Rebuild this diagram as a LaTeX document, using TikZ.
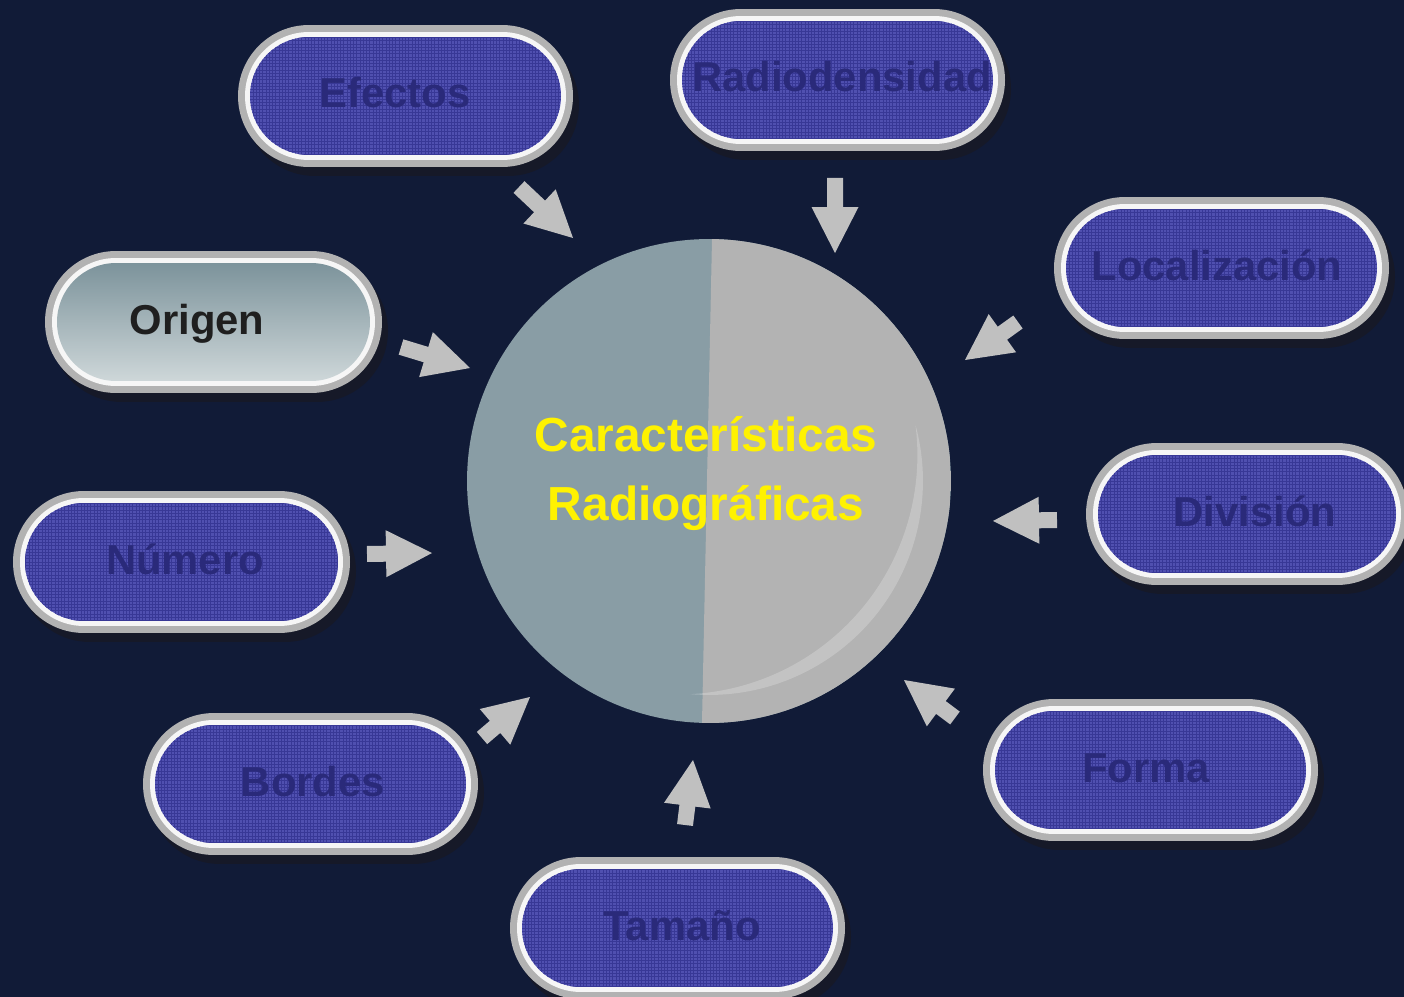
\documentclass[tikz,border=0pt]{standalone}
\usepackage{fontspec}
\setmainfont{Liberation Sans}
\usetikzlibrary{shapes.misc,calc}

\definecolor{bg}{RGB}{17,27,55}
\definecolor{shadowc}{RGB}{22,25,40}
\definecolor{rimgray}{RGB}{178,178,178}
\definecolor{ringwhite}{RGB}{246,246,246}
\definecolor{pillblue}{RGB}{80,80,176}
\definecolor{meshblue}{RGB}{56,56,150}
\definecolor{labelnavy}{RGB}{42,42,122}
\definecolor{slate}{RGB}{137,157,165}
\definecolor{diskgray}{RGB}{179,179,179}
\definecolor{arrowgray}{RGB}{192,192,192}
\definecolor{origtop}{RGB}{124,147,155}
\definecolor{origbot}{RGB}{206,215,217}

\tikzset{
  pilllayer/.style={rounded rectangle, inner sep=0pt, draw=none},
  bluefill/.style={fill=pillblue},
  greyfill/.style={top color=origtop, bottom color=origbot},
  bluelabel/.style={text=labelnavy, font=\fontsize{23.8}{28}\selectfont\bfseries},
  greylabel/.style={text=black!88, font=\fontsize{23.8}{28}\selectfont\bfseries},
  hubtext/.style={text=yellow, font=\fontsize{27.2}{33}\selectfont\bfseries, inner sep=0pt},
  blockfill/.style={fill=arrowgray},
  sheen/.style={fill=white, fill opacity=0.22}
}

% fine woven texture of the blue pills
\newcommand\pillmeshblue{%
  \draw[meshblue, line width=0.3pt, step=0.065cm]
    (path picture bounding box.south west) grid (path picture bounding box.north east);}
\newcommand\pillmeshgrey{}

% #1 name, #2 cx, #3 cy, #4 outer width (px), #5 label x offset, #6 label, #7 look
\newcommand\pillnode[7]{%
  \node[pilllayer, fill=shadowc, minimum width={#4*0.02cm}, minimum height=2.84cm]
    at (#2+6,#3+9) {};
  \node[pilllayer, fill=rimgray, minimum width={#4*0.02cm}, minimum height=2.84cm]
    (#1) at (#2,#3) {};
  \node[pilllayer, fill=ringwhite, minimum width={(#4-14)*0.02cm}, minimum height=2.56cm]
    at (#1) {};
  \node[pilllayer, #7fill, minimum width={(#4-24)*0.02cm}, minimum height=2.36cm,
    path picture={\csname pillmesh#7\endcsname
      \node[#7label, anchor=base, inner sep=0pt]
        at ([shift={(#5,12)}]path picture bounding box.center) {#6};}]
    (#1-in) at (#1) {};
}

% block arrow from tail coordinate #1 to tip coordinate #2
\newcommand\blockarrow[2]{%
  \path ($(#2)!0.92cm!(#1)$) coordinate (hb);
  \fill[blockfill]
    ($(#1)!0.16cm!90:(#2)$) -- ($(hb)!0.16cm!90:(#2)$) -- ($(hb)!0.47cm!90:(#2)$)
    -- (#2)
    -- ($(hb)!0.47cm!-90:(#2)$) -- ($(hb)!0.16cm!-90:(#2)$) -- ($(#1)!0.16cm!-90:(#2)$)
    -- cycle;
}

\begin{document}
\begin{tikzpicture}[x=0.02cm, y=-0.02cm]
\useasboundingbox (0,0) rectangle (1404,997);
\fill[bg] (0,0) rectangle (1404,997);
\begin{scope}
\clip (0,0) rectangle (1404,997);

% central disc, two-tone
\node[circle, inner sep=0pt, minimum size=9.68cm, fill=slate,
  path picture={\fill[diskgray]
    ([xshift=0.06cm]path picture bounding box.north)
    -- ([xshift=-0.14cm]path picture bounding box.south)
    -- (path picture bounding box.south east)
    -- (path picture bounding box.north east) -- cycle;}]
  (hub) at (709,481) {};
% crescent-shaped sheen on the lower right of the disc
\fill[sheen] ($(hub.center)+(15:4.28cm)$)
  arc[start angle=15, end angle=-95, radius=4.28cm]
  arc[start angle=-87.1, end angle=7.1, radius=4.784cm] -- cycle;
\node[hubtext, anchor=base] (hubA) at (706,451) {Características};
\node[hubtext, anchor=base] (hubB) at (706,520) {Radiográficas};

% surrounding pills
\pillnode{efectos}{405.5}{96}{335}{-10.5}{Efectos}{blue}
\pillnode{radio}{837.5}{80}{335}{4.5}{Radiodensidad}{blue}
\pillnode{local}{1221.5}{268}{335}{-4.5}{Localización}{blue}
\pillnode{origen}{213.5}{322}{337}{-16.5}{Origen}{grey}
\pillnode{division}{1247}{514}{322}{8}{División}{blue}
\pillnode{numero}{181.5}{562}{337}{3.5}{Número}{blue}
\pillnode{bordes}{310.5}{784}{335}{2.5}{Bordes}{blue}
\pillnode{forma}{1150.5}{770}{335}{-4.5}{Forma}{blue}
\pillnode{tamano}{677.5}{928}{335}{4.5}{Tamaño}{blue}

% arrow ends
\coordinate (efe-t) at (519,187);   \coordinate (efe-h) at (573,238);
\coordinate (rad-t) at (835,178);   \coordinate (rad-h) at (835,253);
\coordinate (loc-t) at (1018,322);  \coordinate (loc-h) at (965,360);
\coordinate (ori-t) at (401,347);   \coordinate (ori-h) at (470,368);
\coordinate (num-t) at (367,554);   \coordinate (num-h) at (432,553);
\coordinate (div-t) at (1057,520);  \coordinate (div-h) at (993,521);
\coordinate (bor-t) at (482,738);   \coordinate (bor-h) at (530,697);
\coordinate (tam-t) at (685,825);   \coordinate (tam-h) at (693,760);
\coordinate (for-t) at (955,718);   \coordinate (for-h) at (904,680);

\blockarrow{efe-t}{efe-h}
\blockarrow{rad-t}{rad-h}
\blockarrow{loc-t}{loc-h}
\blockarrow{ori-t}{ori-h}
\blockarrow{num-t}{num-h}
\blockarrow{div-t}{div-h}
\blockarrow{bor-t}{bor-h}
\blockarrow{tam-t}{tam-h}
\blockarrow{for-t}{for-h}
\end{scope}
\end{tikzpicture}
\end{document}
